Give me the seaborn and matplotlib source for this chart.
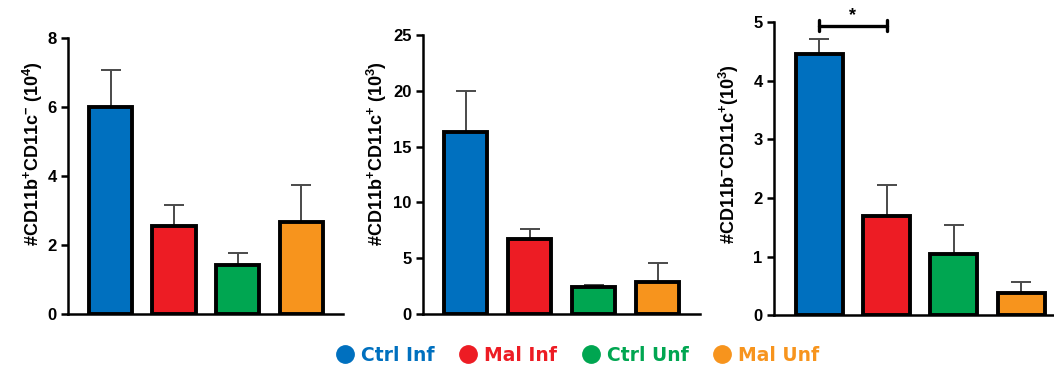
import matplotlib
matplotlib.use("Agg")
import matplotlib.pyplot as plt
from matplotlib.lines import Line2D
import numpy as np
import pandas as pd
import seaborn as sns

groups = ["Ctrl Inf", "Mal Inf", "Ctrl Unf", "Mal Unf"]
colors = ["#0070BF", "#ED1C24", "#00A651", "#F7941D"]

# mean and upper end of the error bar for each panel
p1_mean = [6.0, 2.55, 1.43, 2.68]
p1_top = [7.07, 3.17, 1.77, 3.75]
p2_mean = [16.3, 6.7, 2.4, 2.9]
p2_top = [20.0, 7.6, 2.6, 4.6]
p3_mean = [4.45, 1.69, 1.05, 0.37]
p3_top = [4.72, 2.22, 1.54, 0.57]

ylabels = [r"#CD11b$^{+}$CD11c$^{-}$ (10$^{4}$)",
           r"#CD11b$^{+}$CD11c$^{+}$ (10$^{3}$)",
           r"#CD11b$^{-}$CD11c$^{+}$(10$^{3}$)"]
ylims = [8, 25, 5]
yticks = [[0, 2, 4, 6, 8], [0, 5, 10, 15, 20, 25], [0, 1, 2, 3, 4, 5]]

sns.set_style("ticks", {"axes.edgecolor": "black", "text.color": "black",
                        "axes.labelcolor": "black", "ytick.color": "black",
                        "xtick.color": "black"})
plt.rcParams["font.family"] = ["Liberation Sans", "DejaVu Sans"]
plt.rcParams["mathtext.fontset"] = "custom"
plt.rcParams["mathtext.rm"] = "Liberation Sans:bold"
plt.rcParams["mathtext.bf"] = "Liberation Sans:bold"
plt.rcParams["mathtext.it"] = "Liberation Sans:bold"
plt.rcParams["mathtext.default"] = "bf"

fig = plt.figure(figsize=(10.54, 3.69), dpi=100)
rects = [[0.0645, 0.149, 0.261, 0.748],
         [0.401, 0.149, 0.263, 0.756],
         [0.734, 0.146, 0.266, 0.794]]
xlims = [(-0.67, 3.66), (-0.67, 3.66), (-0.68, 3.49)]
widths = [0.68, 0.68, 0.70]
label_x = [0.043, 0.369, 0.703]
label_y = 0.583

panels = [(p1_mean, p1_top), (p2_mean, p2_top), (p3_mean, p3_top)]
for i, (means, tops) in enumerate(panels):
    ax = fig.add_axes(rects[i])
    df = pd.DataFrame({"group": groups, "value": means})
    sns.barplot(data=df, x="group", y="value", hue="group", palette=colors,
                order=groups, hue_order=groups, width=widths[i], saturation=1,
                edgecolor="black", linewidth=2.8, errorbar=None,
                legend=False, ax=ax, zorder=2)
    err = np.array(tops) - np.array(means)
    ax.errorbar(np.arange(4), means, yerr=[np.zeros(4), err], fmt="none",
                ecolor="#4a4a4a", elinewidth=1.4, capsize=7, capthick=1.4,
                zorder=1)
    ax.set_xlim(*xlims[i])
    ax.set_ylim(0, ylims[i])
    ax.set_yticks(yticks[i])
    ax.set_xticks([])
    ax.set_xlabel("")
    ax.set_ylabel(ylabels[i], fontsize=13, fontweight="bold", color="black")
    ax.yaxis.set_label_coords(label_x[i], label_y, transform=fig.transFigure)
    for lab in ax.get_yticklabels():
        lab.set_fontweight("bold")
    ax.tick_params(axis="y", labelsize=12, width=1.8, length=5, direction="out",
                   pad=3, colors="black")
    for s in ["left", "bottom"]:
        ax.spines[s].set_linewidth(1.8)
        ax.spines[s].set_color("black")
    sns.despine(ax=ax)
    ax.spines["bottom"].set_zorder(3)

    if i == 2:
        # significance bracket between Ctrl Inf and Mal Inf
        yb = 4.94
        ax.plot([0, 1], [yb, yb], color="black", lw=2.4, clip_on=False)
        ax.plot([0, 0], [yb - 0.09, yb + 0.09], color="black", lw=2.4, clip_on=False)
        ax.plot([1, 1], [yb - 0.09, yb + 0.09], color="black", lw=2.4, clip_on=False)
        ax.text(0.5, yb + 0.02, "*", ha="center", va="bottom", fontsize=13,
                fontweight="bold", color="black", clip_on=False)

handles = [Line2D([], [], marker="o", linestyle="none", markersize=12.5,
                  markerfacecolor=c, markeredgecolor=c) for c in colors]
leg = fig.legend(handles, groups, loc="center", bbox_to_anchor=(0.546, 0.037),
                 ncol=4, frameon=False, handletextpad=0.15, columnspacing=1.1,
                 handlelength=1.4,
                 prop={"family": "DejaVu Sans", "weight": "bold", "size": 13.5})
for t, c in zip(leg.get_texts(), colors):
    t.set_color(c)

fig.savefig("out.png", dpi=100)
